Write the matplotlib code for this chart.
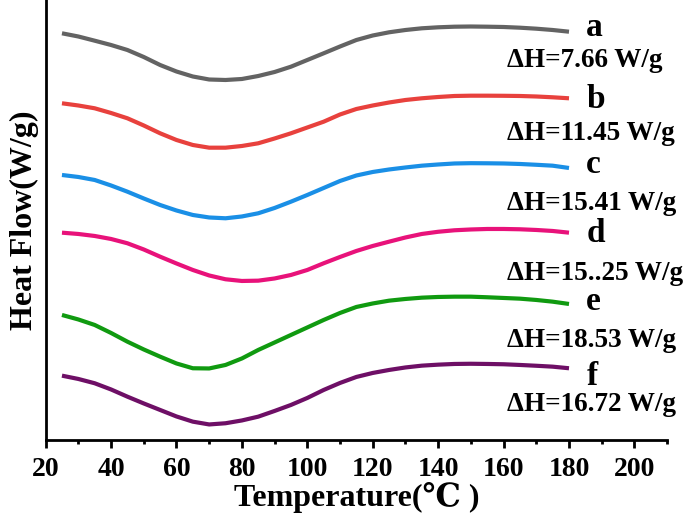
import matplotlib.pyplot as plt
from matplotlib.ticker import MultipleLocator

# temperature (C) and heat flow readings (arb. units, endotherm down -> larger value)
temp = [25, 30, 35, 40, 45, 50, 55, 60, 65, 70, 75, 80, 85, 90, 95, 100,
        105, 110, 115, 120, 125, 130, 135, 140, 145, 150, 155, 160, 165, 170, 175, 180]

flow_a = [33.3, 36.5, 40.7, 45.0, 50.0, 57.0, 65.0, 71.5, 76.5, 79.5, 80.0, 79.0, 76.0, 72.0, 66.7, 60.0,
          53.3, 46.5, 40.0, 35.5, 32.3, 30.0, 28.3, 27.3, 26.7, 26.5, 26.7, 27.0, 27.7, 28.7, 30.0, 31.7]
flow_b = [103.3, 105.5, 108.3, 113.0, 118.3, 125.5, 133.3, 140.0, 145.0, 147.7, 147.7, 146.0, 143.3, 138.5, 133.3, 127.5,
          121.7, 114.5, 109.0, 105.5, 102.5, 100.0, 98.3, 97.0, 96.0, 95.7, 95.7, 95.8, 96.0, 96.5, 97.3, 98.3]
flow_c = [175.0, 177.0, 180.0, 185.5, 191.7, 198.5, 205.0, 210.5, 215.0, 217.5, 218.3, 216.5, 213.3, 208.0, 201.7, 195.0,
          188.0, 181.0, 175.5, 172.0, 169.5, 167.5, 165.7, 164.5, 163.5, 163.2, 163.3, 163.5, 164.0, 164.8, 165.7, 168.0]
flow_d = [232.7, 234.0, 236.0, 239.0, 243.3, 249.5, 256.7, 263.5, 270.0, 275.5, 279.3, 281.0, 280.7, 278.5, 275.0, 270.0,
          263.3, 257.0, 251.0, 246.0, 241.7, 237.5, 234.0, 231.8, 230.3, 229.5, 229.0, 229.0, 229.3, 230.0, 231.0, 232.7]
flow_e = [315.0, 319.5, 325.0, 333.0, 341.7, 349.5, 356.7, 363.5, 368.3, 368.5, 365.0, 358.5, 350.0, 342.5, 335.0, 327.5,
          320.0, 313.0, 307.0, 303.5, 300.7, 299.0, 297.7, 297.0, 296.7, 296.7, 297.3, 298.0, 298.7, 300.0, 301.7, 304.0]
flow_f = [375.7, 379.0, 383.3, 389.5, 396.7, 403.5, 410.0, 416.5, 421.7, 424.5, 423.3, 420.5, 416.7, 411.0, 405.0, 398.0,
          390.0, 383.0, 377.0, 373.0, 370.0, 367.5, 365.7, 364.7, 364.0, 363.8, 364.0, 364.3, 365.0, 365.8, 366.7, 368.3]

curves = [flow_a, flow_b, flow_c, flow_d, flow_e, flow_f]
names = ['a', 'b', 'c', 'd', 'e', 'f']
enthalpy = ['ΔH=7.66 W/g', 'ΔH=11.45 W/g', 'ΔH=15.41 W/g', 'ΔH=15..25 W/g', 'ΔH=18.53 W/g', 'ΔH=16.72 W/g']
colors = ['#636363', '#e8413d', '#1a8fe6', '#e8127a', '#109a10', '#6e0f66']

name_y = [36, 108, 173, 242, 310, 385]
dh_y = [67, 140, 210, 280, 347, 411]

fonts = ['Liberation Serif', 'DejaVu Serif']

fig = plt.figure(figsize=(6.86, 5.25), dpi=100)
ax = fig.add_axes([0.0665, 0.162, 0.906, 0.838])

for i in range(len(curves)):
    ax.plot(temp, curves[i], color=colors[i], lw=3, solid_capstyle='butt', solid_joinstyle='round')
    ax.text(185.3, name_y[i], names[i], family=fonts, fontsize=24, fontweight='bold',
            va='baseline', ha='left')
    ax.text(161, dh_y[i], enthalpy[i], family=fonts, fontsize=19.5, fontweight='bold',
            va='baseline', ha='left')

ax.set_xlim(20, 210)
ax.set_ylim(440, 0)

ax.spines['top'].set_visible(False)
ax.spines['right'].set_visible(False)
ax.spines['left'].set_linewidth(2)
ax.spines['bottom'].set_linewidth(2)

ax.xaxis.set_major_locator(MultipleLocator(20))
ax.xaxis.set_minor_locator(MultipleLocator(10))
ax.tick_params(axis='x', which='major', direction='out', length=6, width=2, pad=6)
ax.tick_params(axis='x', which='minor', direction='out', length=3, width=2)
ax.set_yticks([])

for lab in ax.get_xticklabels():
    lab.set_family(fonts)
    lab.set_fontsize(20)
    lab.set_fontweight('bold')

ax.set_xlabel('Temperature(℃ )', family=fonts, fontsize=23, fontweight='bold', labelpad=0)
ax.set_ylabel('Heat Flow(W/g)', family=fonts, fontsize=23, fontweight='bold', labelpad=5)

fig.savefig('out.png', dpi=100)
